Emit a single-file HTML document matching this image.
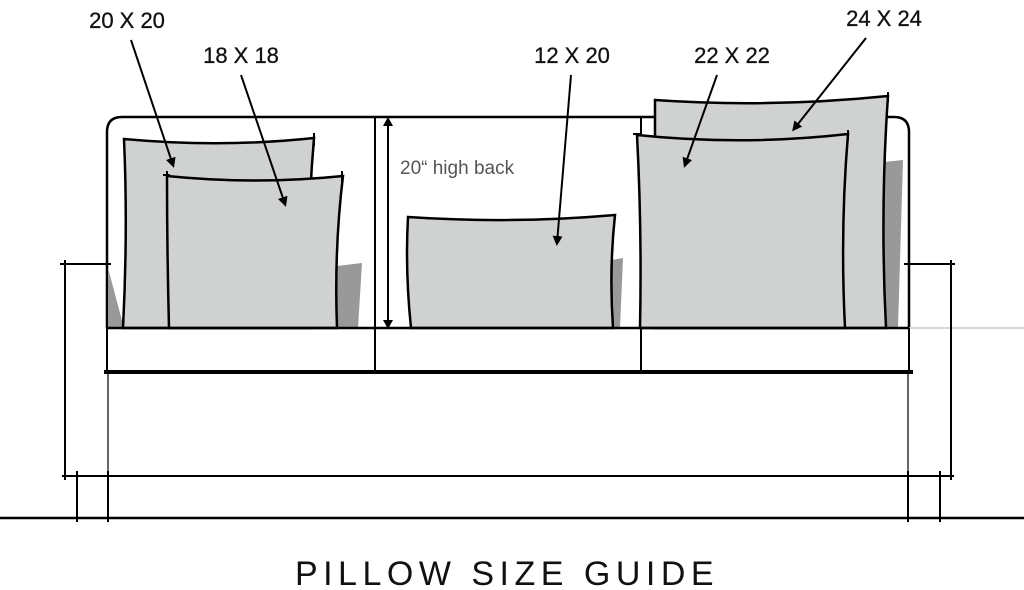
<!DOCTYPE html>
<html><head><style>html,body{margin:0;padding:0;background:#fff}svg{display:block}</style></head>
<body>
<svg width="1024" height="590" viewBox="0 0 1024 590" xmlns="http://www.w3.org/2000/svg" font-family="Liberation Sans, sans-serif">
<defs><marker id="ah" markerWidth="10" markerHeight="10" refX="7" refY="5" orient="auto" markerUnits="userSpaceOnUse"><path d="M0,0 L10,5 L0,10 z" fill="#000"/></marker></defs>
<path d="M107,328 L107,132 Q107,117 122,117 L894,117 Q909,117 909,132 L909,328" fill="none" stroke="#000" stroke-width="2.5"/>
<line x1="375" y1="117" x2="375" y2="372" stroke="#000" stroke-width="2"/>
<line x1="641" y1="117" x2="641" y2="372" stroke="#000" stroke-width="2"/>
<polygon points="108,268 124,328 108,328" fill="#999"/>
<polygon points="337,266 362,263 358,328 337,328" fill="#999"/>
<polygon points="612,260 623,258 620,328 612,328" fill="#999"/>
<polygon points="884,162 903,160 898,328 884,328" fill="#999"/>
<polygon points="845,160 852,158 849,328 845,328" fill="#999"/>
<path d="M124,139 Q220,148 314,138 Q306,230 310,328 L123,328 Q128,230 124,139 Z" fill="#d0d1d1" stroke="#000" stroke-width="2.5"/>
<line x1="314" y1="133" x2="314" y2="146" stroke="#000" stroke-width="2"/>
<path d="M167,176 Q255,185 343,176 Q334,250 337,328 L169,328 Q167,250 167,176 Z" fill="#d0d1d1" stroke="#000" stroke-width="2.5"/>
<line x1="163" y1="175" x2="170" y2="175" stroke="#000" stroke-width="2"/>
<line x1="167" y1="171" x2="167" y2="182" stroke="#000" stroke-width="2"/>
<line x1="342" y1="171" x2="342" y2="182" stroke="#000" stroke-width="2"/>
<path d="M408,217 Q512,224 615,215 Q609,270 613,328 L411,328 Q405,270 408,217 Z" fill="#d0d1d1" stroke="#000" stroke-width="2.5"/>
<path d="M655,100 Q770,108 888,96 Q880,210 886,328 L655,328 L655,100 Z" fill="#d0d1d1" stroke="#000" stroke-width="2.5"/>
<line x1="888" y1="92" x2="888" y2="102" stroke="#000" stroke-width="2"/>
<path d="M637,135 Q743,146 848,134 Q840,230 845,328 L640,328 Q642,230 637,135 Z" fill="#d0d1d1" stroke="#000" stroke-width="2.5"/>
<line x1="633" y1="134" x2="641" y2="134" stroke="#000" stroke-width="2"/>
<line x1="848" y1="130" x2="848" y2="140" stroke="#000" stroke-width="2"/>
<line x1="107" y1="328" x2="909" y2="328" stroke="#000" stroke-width="2.5"/>
<line x1="909" y1="328" x2="1024" y2="328" stroke="#ccc" stroke-width="1.5"/>
<line x1="107" y1="328" x2="107" y2="372" stroke="#000" stroke-width="2"/>
<line x1="909" y1="328" x2="909" y2="372" stroke="#000" stroke-width="2"/>
<line x1="104" y1="372" x2="913" y2="372" stroke="#000" stroke-width="4"/>
<line x1="108" y1="372" x2="108" y2="522" stroke="#000" stroke-width="1.2"/>
<line x1="908" y1="372" x2="908" y2="522" stroke="#000" stroke-width="1.2"/>
<line x1="62" y1="476" x2="954" y2="476" stroke="#000" stroke-width="2"/>
<line x1="0" y1="518" x2="1024" y2="518" stroke="#000" stroke-width="2.5"/>
<line x1="77" y1="471" x2="77" y2="522" stroke="#000" stroke-width="2"/>
<line x1="108" y1="471" x2="108" y2="522" stroke="#000" stroke-width="2"/>
<line x1="908" y1="471" x2="908" y2="522" stroke="#000" stroke-width="2"/>
<line x1="940" y1="471" x2="940" y2="522" stroke="#000" stroke-width="2"/>
<line x1="60" y1="264" x2="111" y2="264" stroke="#000" stroke-width="2"/>
<line x1="65" y1="260" x2="65" y2="480" stroke="#000" stroke-width="2"/>
<line x1="904" y1="264" x2="955" y2="264" stroke="#000" stroke-width="2"/>
<line x1="951" y1="260" x2="951" y2="480" stroke="#000" stroke-width="2"/>
<line x1="388" y1="120" x2="388" y2="326" stroke="#000" stroke-width="2"/>
<path d="M383,126 L388,117 L393,126 Z M383,320 L388,329 L393,320 Z" fill="#000"/>
<text x="400" y="174" font-size="19" fill="#555">20“ high back</text>
<g stroke="#000" stroke-width="2" marker-end="url(#ah)">
<line x1="131" y1="40" x2="173" y2="165"/>
<line x1="241" y1="75" x2="285" y2="204"/>
<line x1="571" y1="75" x2="557" y2="243"/>
<line x1="717" y1="75" x2="685" y2="165"/>
<line x1="866" y1="38" x2="794" y2="129"/>
</g>
<g font-size="22" fill="#111" text-anchor="middle" stroke="#111" stroke-width="0.3">
<text x="127" y="28">20 X 20</text>
<text x="241" y="63">18 X 18</text>
<text x="572" y="63">12 X 20</text>
<text x="732" y="63">22 X 22</text>
<text x="884" y="26">24 X 24</text>
</g>
<text x="507" y="585" font-size="34" letter-spacing="5.5" text-anchor="middle" fill="#111">PILLOW SIZE GUIDE</text>
</svg>
</body></html>
